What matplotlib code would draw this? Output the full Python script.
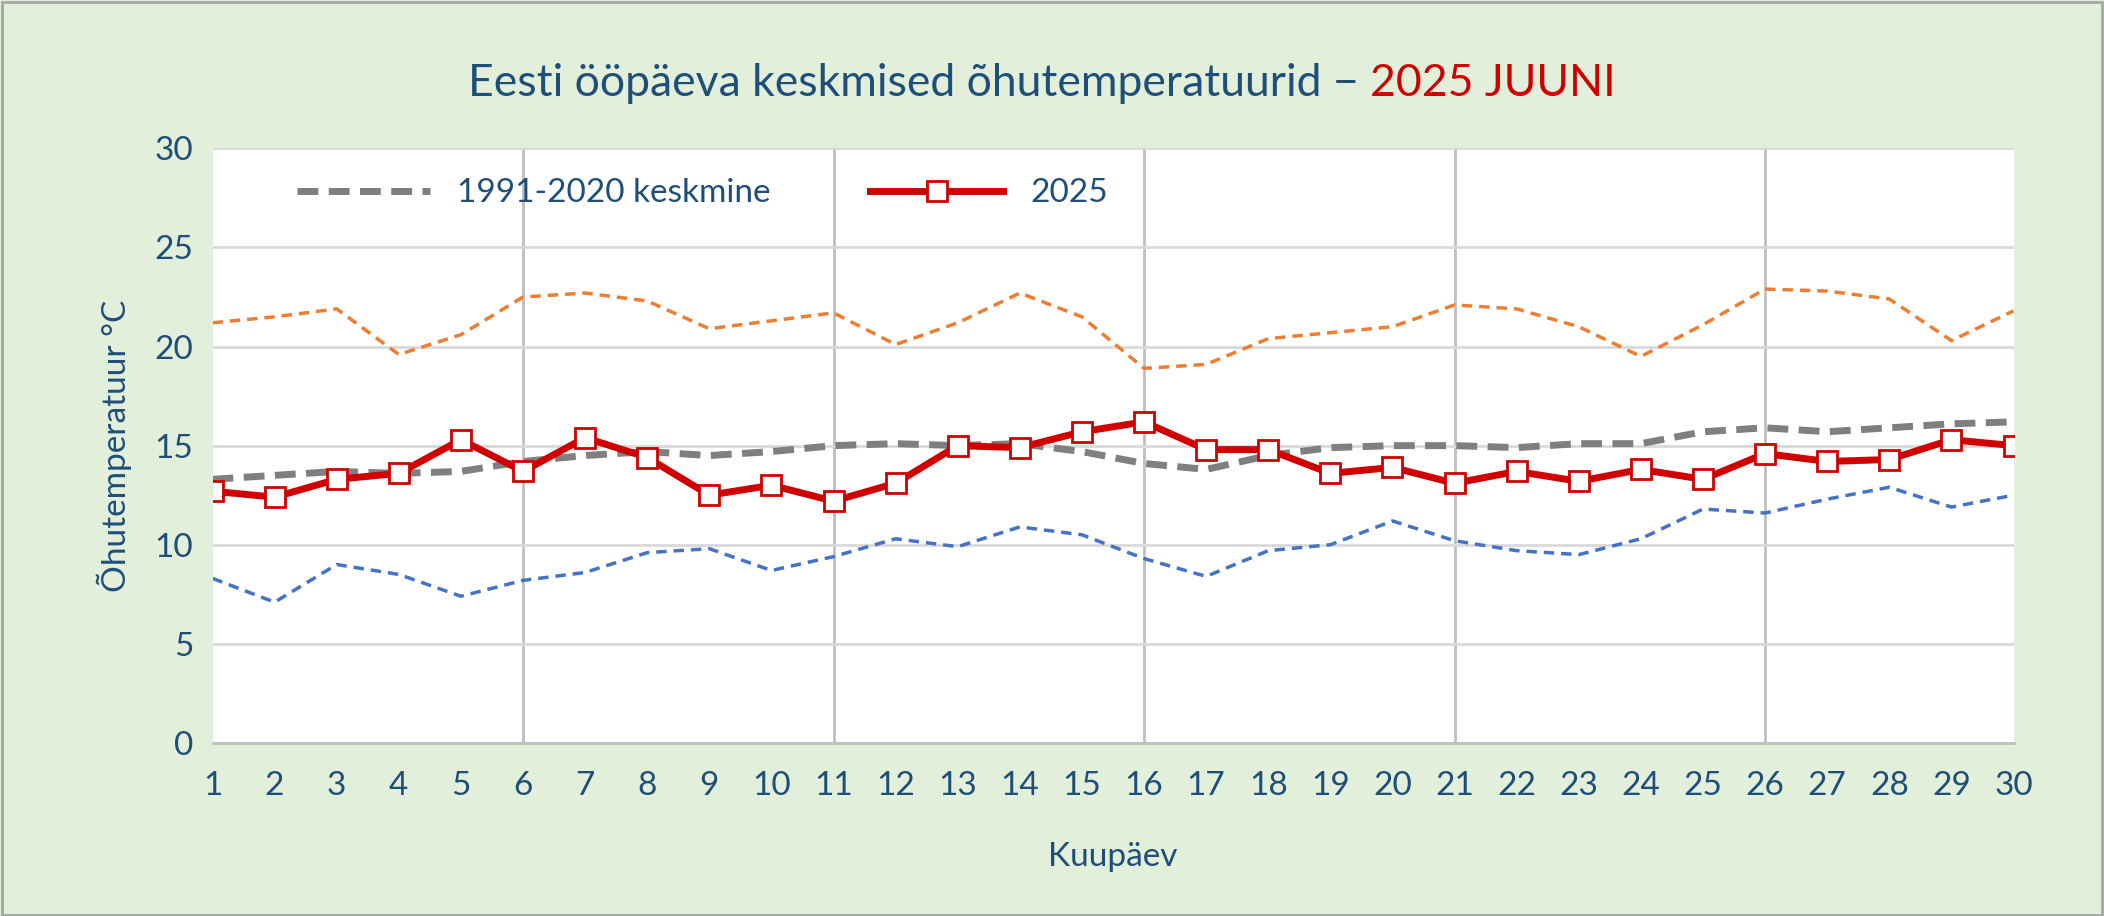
import matplotlib.pyplot as plt
from matplotlib.patches import Rectangle

days = list(range(1, 31))
temp_2025 = [12.7, 12.4, 13.3, 13.6, 15.3, 13.7, 15.4, 14.4, 12.5, 13.0,
             12.2, 13.1, 15.0, 14.9, 15.7, 16.2, 14.8, 14.8, 13.6, 13.9,
             13.1, 13.7, 13.2, 13.8, 13.3, 14.6, 14.2, 14.3, 15.3, 15.0]
temp_avg = [13.3, 13.5, 13.7, 13.6, 13.7, 14.2, 14.5, 14.7, 14.5, 14.7,
            15.0, 15.1, 15.0, 15.1, 14.7, 14.1, 13.8, 14.5, 14.9, 15.0,
            15.0, 14.9, 15.1, 15.1, 15.7, 15.9, 15.7, 15.9, 16.1, 16.2]
temp_max = [21.2, 21.5, 21.9, 19.6, 20.6, 22.5, 22.7, 22.3, 20.9, 21.3,
            21.7, 20.1, 21.2, 22.7, 21.5, 18.9, 19.1, 20.4, 20.7, 21.0,
            22.1, 21.9, 21.0, 19.5, 21.1, 22.9, 22.8, 22.4, 20.3, 21.8]
temp_min = [8.3, 7.1, 9.0, 8.5, 7.4, 8.2, 8.6, 9.6, 9.8, 8.7,
            9.4, 10.3, 9.9, 10.9, 10.5, 9.3, 8.4, 9.7, 10.0, 11.2,
            10.2, 9.7, 9.5, 10.3, 11.8, 11.6, 12.3, 12.9, 11.9, 12.5]

TXT = "#1F4E79"
plt.rcParams["font.family"] = "Lato"

fig = plt.figure(figsize=(21.04, 9.16), dpi=100, facecolor="#E2EFDA")
fig.patches.append(Rectangle((0.001, 0.001), 0.998, 0.997, transform=fig.transFigure,
                             fill=False, edgecolor="#A6A6A6", linewidth=2))
ax = fig.add_axes([0.101, 0.189, 0.856, 0.649])
ax.set_facecolor("white")

ax.plot(days, temp_max, color="#ED7D31", linestyle=(0, (3, 2)), linewidth=2.5)
ax.plot(days, temp_min, color="#4472C4", linestyle=(0, (3, 2)), linewidth=2.5)
ax.plot(days, temp_avg, color="#7F7F7F", linestyle=(0, (3, 1.5)), linewidth=5,
        label="1991-2020 keskmine")
ax.plot(days, temp_2025, color="#D00000", linewidth=5, marker="s", markersize=15,
        markerfacecolor="white", markeredgecolor="#D00000", markeredgewidth=2,
        label="2025")

ax.set_xlim(1, 30)
ax.set_ylim(0, 30)
ax.set_xticks(days)
ax.set_yticks(range(0, 31, 5))
for d in [6, 11, 16, 21, 26]:
    ax.axvline(d, color="#BFBFBF", linewidth=2, zorder=0)
ax.grid(axis="y", color="#D9D9D9", linewidth=2, zorder=0)
ax.set_axisbelow(True)
for side in ["top", "right", "left"]:
    ax.spines[side].set_visible(False)
ax.spines["bottom"].set_color("#BFBFBF")
ax.spines["bottom"].set_linewidth(2)
ax.tick_params(length=0, labelsize=24, labelcolor=TXT)
ax.tick_params(axis="x", pad=20)
ax.tick_params(axis="y", pad=14)

ax.set_xlabel("Kuupäev", fontsize=24, color=TXT, labelpad=30)
ax.set_ylabel("Õhutemperatuur °C", fontsize=24, color=TXT, labelpad=16)

ax.legend(loc="upper left", bbox_to_anchor=(0.03, 1.0), ncol=2, frameon=False,
          fontsize=24, labelcolor=TXT, handlelength=4, columnspacing=3)

fig.text(0.651, 0.909, "Eesti ööpäeva keskmised õhutemperatuurid \u2212 ", ha="right",
         va="center", fontsize=32, color=TXT)
fig.text(0.651, 0.909, "2025 JUUNI", ha="left", va="center", fontsize=32, color="#D00000")

fig.savefig("out.png", dpi=100, facecolor=fig.get_facecolor())
